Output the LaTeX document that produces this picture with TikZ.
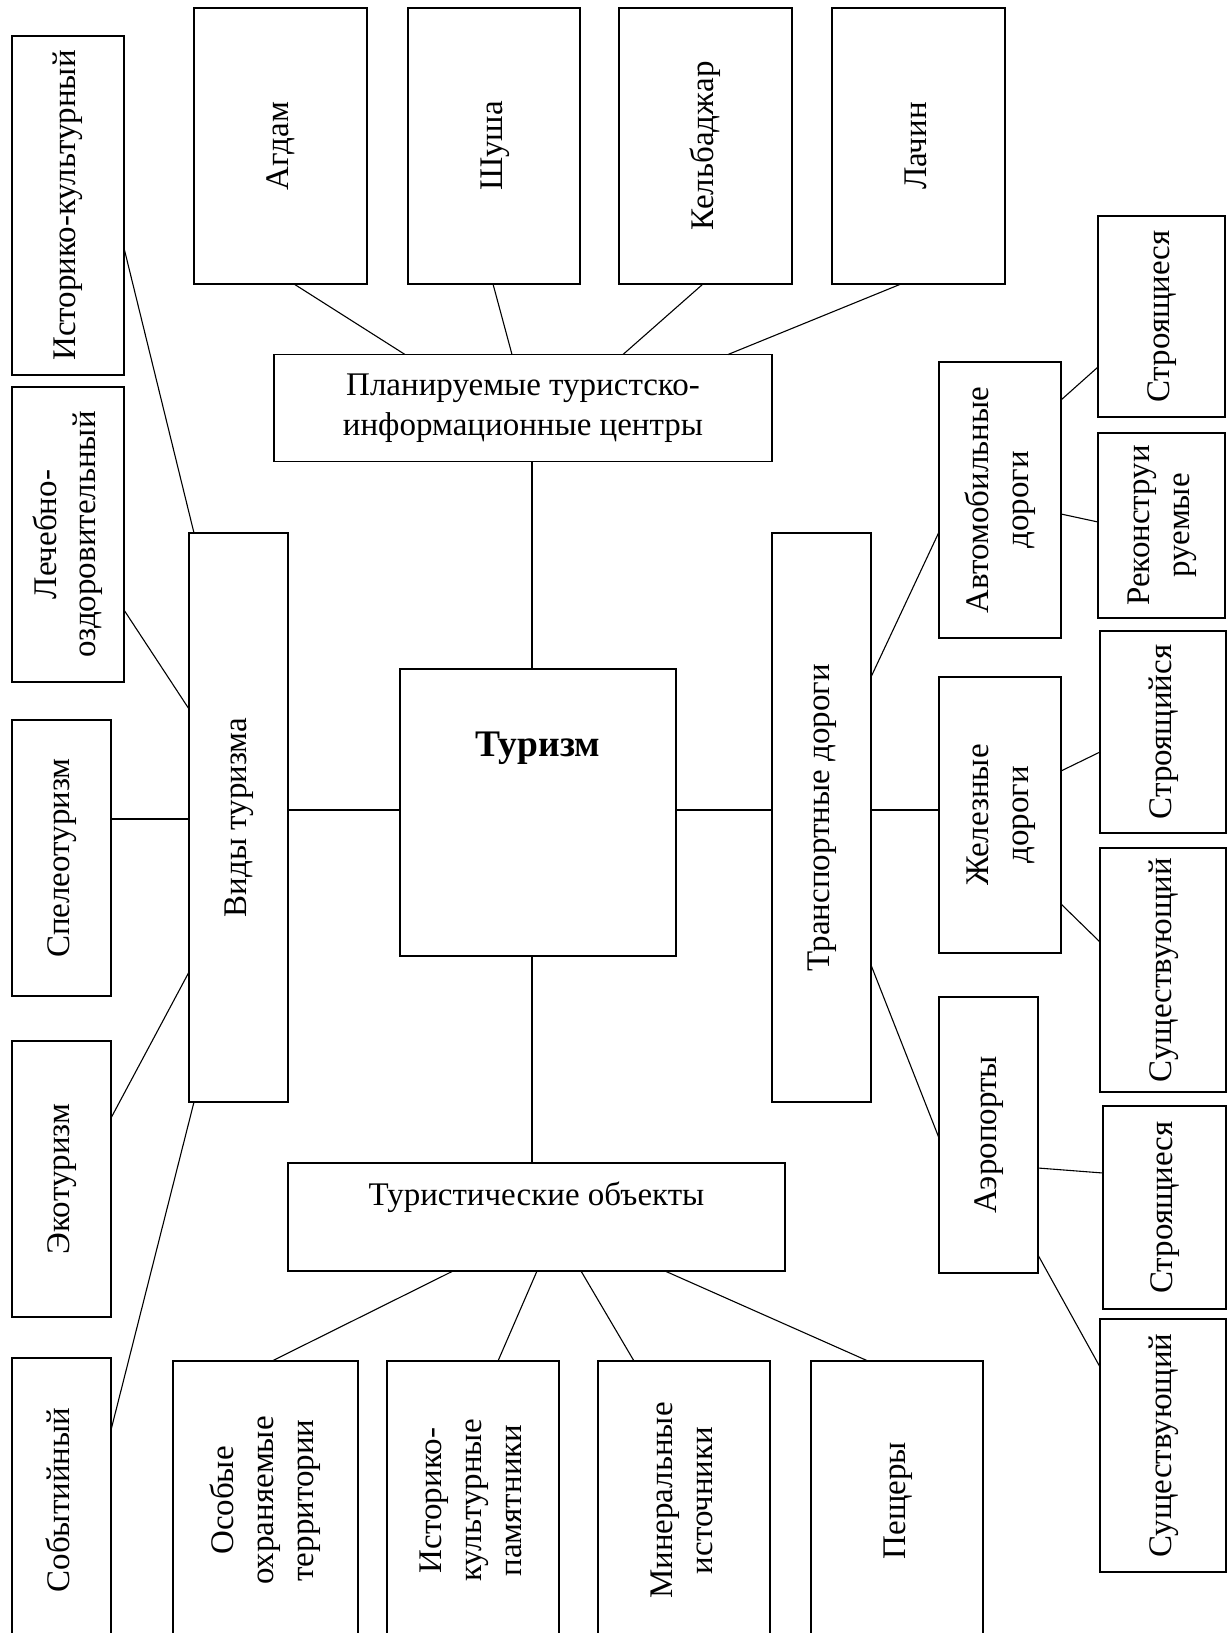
\documentclass[tikz,border=0pt]{standalone}
\usepackage{fontspec}
\setmainfont{Liberation Serif}
\usepackage{graphicx}
\tikzset{
  x=1pt, y=-1pt,
  boxst/.style={draw, line width=1.3pt, inner sep=0pt, outer sep=0pt, font=\fontsize{33}{40}\selectfont},
  conn/.style={line width=1.1pt},
  lbl/.style={inner sep=0pt, font=\fontsize{33}{40}\selectfont},
}
\newcommand\mkbox[6]{%
  \node[boxst, minimum width={(#4-#2)*1pt}, minimum height={(#5-#3)*1pt}] (#1) at ({(#2+#4)/2},{(#3+#5)/2}) {\rotatebox{90}{\begin{tabular}{@{}c@{}}#6\end{tabular}}};}
\newcommand\mkplain[5]{%
  \node[boxst, minimum width={(#4-#2)*1pt}, minimum height={(#5-#3)*1pt}] (#1) at ({(#2+#4)/2},{(#3+#5)/2}) {};}
\begin{document}
\begin{tikzpicture}
\useasboundingbox (0,0) rectangle (1229,1633);
% left column
\mkbox{hist}{12}{36}{124}{375}{Историко-культурный}
\mkbox{lech}{12}{387}{124}{682}{Лечебно-\\оздоровительный}
\mkbox{spel}{12}{720}{111}{996}{Спелеотуризм}
\mkbox{eco}{12}{1041}{111}{1317}{Экотуризм}
\mkbox{sob}{12}{1358}{111}{1642}{Событийный}
% top row
\mkbox{agdam}{194}{8}{367}{284}{Агдам}
\mkbox{shusha}{408}{8}{580}{284}{Шуша}
\mkbox{kelb}{619}{8}{792}{284}{Кельбаджар}
\mkbox{lachin}{832}{8}{1005}{284}{Лачин}
% centre
\node[boxst, minimum width=498pt, minimum height=107pt, align=center] (plan) at (523,408) {Планируемые туристско-\\информационные центры};
\mkbox{vidy}{189}{533}{288}{1102}{Виды туризма}
\mkplain{tour}{400}{669}{676}{956}
\node[lbl, font=\fontsize{37.5}{44}\selectfont\bfseries] (tourT) at (538,748) {Туризм};
\mkbox{trans}{772}{533}{871}{1102}{Транспортные дороги}
\mkplain{obj}{288}{1163}{785}{1271}
\node[lbl] (objT) at (536.5,1197) {Туристические объекты};
% right side
\mkbox{avto}{939}{362}{1061}{638}{Автомобильные\\дороги}
\mkbox{str1}{1098}{216}{1225}{417}{Строящиеся}
\mkbox{rek}{1098}{433}{1225}{618}{Реконструи\\руемые}
\mkbox{str2}{1100}{631}{1226}{833}{Строящийся}
\mkbox{zhel}{939}{677}{1061}{953}{Железные\\дороги}
\mkbox{sush1}{1100}{848}{1226}{1092}{Существующий}
\mkbox{aero}{939}{997}{1038}{1273}{Аэропорты}
\mkbox{str3}{1103}{1106}{1226}{1309}{Строящиеся}
\mkbox{sush2}{1100}{1319}{1226}{1572}{Существующий}
% bottom row
\mkbox{osob}{173}{1361}{358}{1640}{Особые\\охраняемые\\территории}
\mkbox{hkp}{387}{1361}{559}{1640}{Историко-\\культурные\\памятники}
\mkbox{min}{598}{1361}{770}{1640}{Минеральные\\источники}
\mkbox{pesh}{811}{1361}{983}{1640}{Пещеры}
% connectors: left
\draw[conn] (hist.east |- 0,248) -- (vidy.north -| 194,0);
\draw[conn] (lech.east |- 0,610) -- (vidy.west |- 0,709);
\draw[conn] (spel.east |- 0,819) -- (vidy.west |- 0,819);
\draw[conn] (eco.east |- 0,1118) -- (vidy.west |- 0,972);
\draw[conn] (sob.east |- 0,1430) -- (vidy.south -| 194,0);
\draw[conn] (vidy.east |- 0,810) -- (tour.west |- 0,810);
% top
\draw[conn] (agdam.south -| 294,0) -- (plan.north -| 405,0);
\draw[conn] (shusha.south -| 493,0) -- (plan.north -| 512,0);
\draw[conn] (kelb.south -| 703,0) -- (plan.north -| 623,0);
\draw[conn] (lachin.south -| 901,0) -- (plan.north -| 728,0);
\draw[conn] (plan.south -| 532,0) -- (tour.north -| 532,0);
% right
\draw[conn] (tour.east |- 0,810) -- (trans.west |- 0,810);
\draw[conn] (trans.east |- 0,677) -- (avto.west |- 0,532);
\draw[conn] (trans.east |- 0,810) -- (zhel.west |- 0,810);
\draw[conn] (trans.east |- 0,965) -- (aero.west |- 0,1138);
\draw[conn] (avto.east |- 0,400) -- (str1.west |- 0,367);
\draw[conn] (avto.east |- 0,514) -- (rek.west |- 0,522);
\draw[conn] (zhel.east |- 0,771) -- (str2.west |- 0,752);
\draw[conn] (zhel.east |- 0,904) -- (sush1.west |- 0,942);
\draw[conn] (aero.east |- 0,1168) -- (str3.west |- 0,1173);
\draw[conn] (aero.east |- 0,1255) -- (sush2.west |- 0,1367);
% bottom
\draw[conn] (tour.south -| 532,0) -- (obj.north -| 532,0);
\draw[conn] (obj.south -| 453,0) -- (osob.north -| 272,0);
\draw[conn] (obj.south -| 537,0) -- (hkp.north -| 498,0);
\draw[conn] (obj.south -| 581,0) -- (min.north -| 634,0);
\draw[conn] (obj.south -| 665,0) -- (pesh.north -| 868,0);
\end{tikzpicture}
\end{document}
